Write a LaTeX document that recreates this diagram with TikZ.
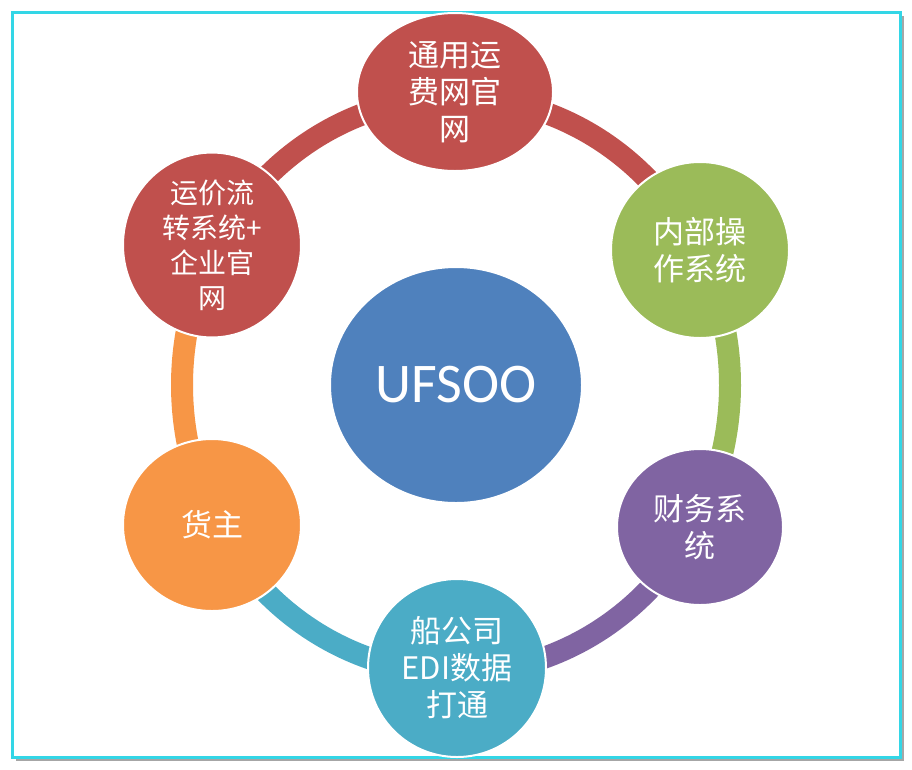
\documentclass[tikz,border=0pt]{standalone}
\usepackage{fontspec}
\setmainfont{Carlito}
\newfontfamily\cjk{Noto Sans CJK SC}
\usetikzlibrary{shapes.geometric}
\definecolor{ringred}{HTML}{C0504D}
\definecolor{ringgreen}{HTML}{9BBB59}
\definecolor{ringpurple}{HTML}{8064A2}
\definecolor{ringcyan}{HTML}{4BACC6}
\definecolor{ringorange}{HTML}{F79646}
\definecolor{ringblue}{HTML}{4F81BD}
\definecolor{framecyan}{HTML}{33D6E6}
\begin{document}
\begin{tikzpicture}[x=1pt,y=-1pt,
    sat node/.style={ellipse,draw=white,line width=2pt,text=white,align=center,
                     inner sep=0pt,font=\cjk\fontsize{31}{37}\selectfont},
    ring/.style={line width=22pt}]
    \useasboundingbox (0,0) rectangle (912,769);
    \fill[black!35] (16,16) rectangle (904,761);
    \draw[framecyan,line width=3pt,fill=white] (12,12) rectangle (900,757);

    % ring segments between the outer nodes
    \coordinate (c) at (456,385);
    \draw[ring,ringred]    (c) ++(90:274 and -288)  arc[start angle=90,end angle=27,x radius=274,y radius=-288];
    \draw[ring,ringgreen]  (c) ++(27:274 and -288)  arc[start angle=27,end angle=-29,x radius=274,y radius=-288];
    \draw[ring,ringpurple] (c) ++(-29:274 and -288) arc[start angle=-29,end angle=-90,x radius=274,y radius=-288];
    \draw[ring,ringcyan]   (c) ++(-90:274 and -288) arc[start angle=-90,end angle=-151,x radius=274,y radius=-288];
    \draw[ring,ringorange] (c) ++(209:274 and -288) arc[start angle=209,end angle=151,x radius=274,y radius=-288];
    \draw[ring,ringred]    (c) ++(151:274 and -288) arc[start angle=151,end angle=90,x radius=274,y radius=-288];

    \node[sat node,fill=ringblue,minimum width=252pt,minimum height=236pt,
          font=\fontsize{56}{64}\selectfont] (core) at (456,385) {UFSOO};
    \node[sat node,fill=ringred,minimum width=196pt,minimum height=158pt] (web) at (455,92) {通用运\\费网官\\网};
    \node[sat node,fill=ringgreen,minimum width=178pt,minimum height=176pt] (ops) at (700,250) {内部操\\作系统};
    \node[sat node,fill=ringpurple,minimum width=166pt,minimum height=156pt] (fin) at (700,527) {财务系\\统};
    \node[sat node,fill=ringcyan,minimum width=178pt,minimum height=178pt] (edi) at (457,668) {船公司\\EDI数据\\打通};
    \node[sat node,fill=ringorange,minimum width=178pt,minimum height=172pt] (owner) at (212,525) {货主};
    \node[sat node,fill=ringred,minimum width=178pt,minimum height=172pt,
          font=\cjk\fontsize{28}{35}\selectfont] (rate) at (212,245) {运价流\\转系统+\\企业官\\网};
\end{tikzpicture}
\end{document}
